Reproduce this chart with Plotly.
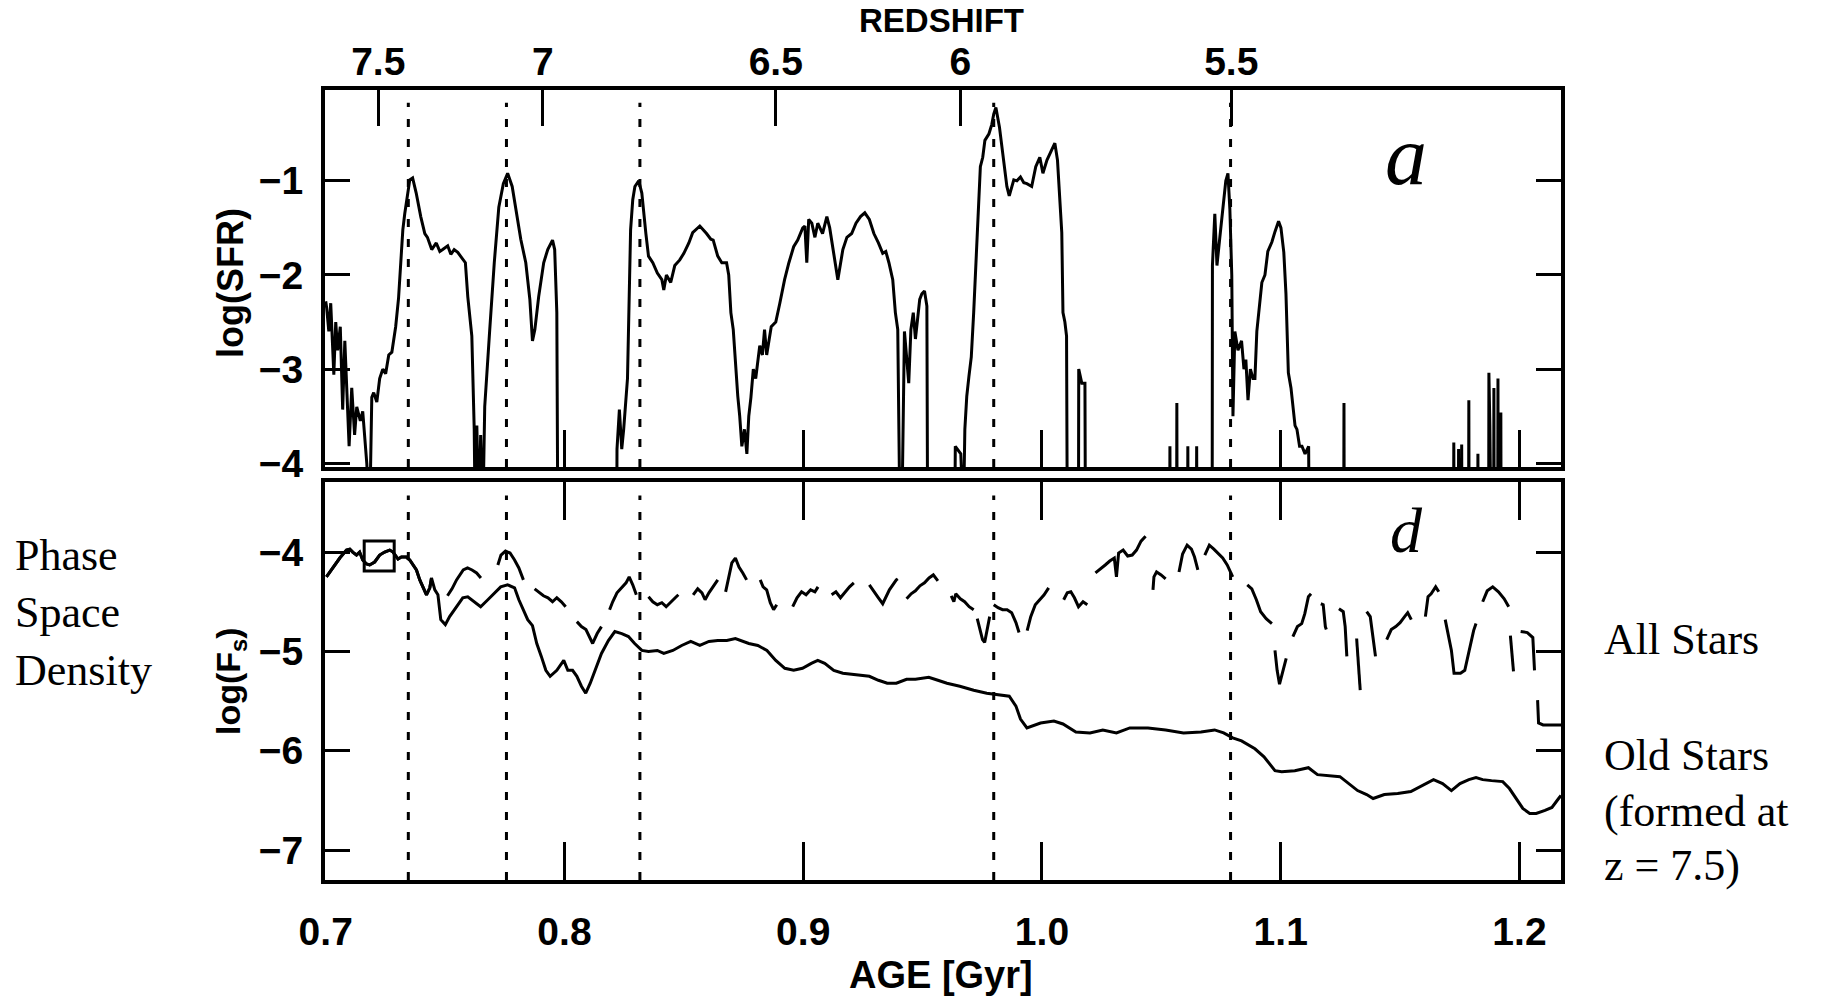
import plotly.graph_objects as go

# ---------------------------------------------------------------- data
# Star formation rate history, log(SFR) against age in Gyr.
# Values of -4.6 sit below the plotted floor (no star formation).
sfr_age = [
    0.7000, 0.7004, 0.7013, 0.7021, 0.7034, 0.7042, 0.7050, 0.7061, 0.7071, 0.7080,
    0.7088, 0.7098, 0.7109, 0.7121, 0.7130, 0.7145, 0.7155, 0.7163, 0.7172, 0.7184,
    0.7193, 0.7201, 0.7214, 0.7226, 0.7239, 0.7251, 0.7264, 0.7277, 0.7293, 0.7305,
    0.7314, 0.7323, 0.7331, 0.7342, 0.7352, 0.7364, 0.7379, 0.7398, 0.7415, 0.7426,
    0.7444, 0.7463, 0.7478, 0.7490, 0.7511, 0.7524, 0.7538, 0.7553, 0.7566, 0.7585,
    0.7595, 0.7612, 0.7622, 0.7626, 0.7633, 0.7641, 0.7649, 0.7658, 0.7666, 0.7675,
    0.7687, 0.7706, 0.7716, 0.7725, 0.7744, 0.7762, 0.7781, 0.7800, 0.7817, 0.7838,
    0.7855, 0.7866, 0.7876, 0.7892, 0.7913, 0.7930, 0.7950, 0.7959, 0.7968, 0.7972,
    0.8219, 0.8220, 0.8230, 0.8240, 0.8248, 0.8264, 0.8272, 0.8277, 0.8286, 0.8295,
    0.8311, 0.8324, 0.8341, 0.8352, 0.8370, 0.8389, 0.8408, 0.8416, 0.8427, 0.8445,
    0.8462, 0.8483, 0.8500, 0.8521, 0.8537, 0.8548, 0.8567, 0.8595, 0.8613, 0.8623,
    0.8642, 0.8659, 0.8679, 0.8688, 0.8697, 0.8707, 0.8716, 0.8726, 0.8734, 0.8743,
    0.8754, 0.8764, 0.8772, 0.8781, 0.8791, 0.8801, 0.8818, 0.8829, 0.8838, 0.8847,
    0.8866, 0.8885, 0.8902, 0.8922, 0.8940, 0.8960, 0.8977, 0.8987, 0.8998, 0.9007,
    0.9015, 0.9023, 0.9036, 0.9049, 0.9061, 0.9081, 0.9099, 0.9111, 0.9128, 0.9145,
    0.9166, 0.9183, 0.9203, 0.9221, 0.9240, 0.9258, 0.9277, 0.9296, 0.9315, 0.9333,
    0.9346, 0.9359, 0.9375, 0.9386, 0.9396, 0.9405, 0.9413, 0.9424, 0.9433, 0.9442,
    0.9451, 0.9461, 0.9470, 0.9480, 0.9488, 0.9497, 0.9508, 0.9518, 0.9521, 0.9635,
    0.9637, 0.9660, 0.9671, 0.9677, 0.9685, 0.9694, 0.9704, 0.9714, 0.9723, 0.9731,
    0.9742, 0.9752, 0.9761, 0.9778, 0.9790, 0.9798, 0.9807, 0.9822, 0.9835, 0.9853,
    0.9863, 0.9882, 0.9895, 0.9910, 0.9924, 0.9937, 0.9957, 0.9974, 0.9991, 1.0004,
    1.0021, 1.0042, 1.0054, 1.0065, 1.0075, 1.0083, 1.0088, 1.0096, 1.0103, 1.0106,
    1.0153, 1.0154, 1.0167, 1.0180, 1.0182,
    1.0535, 1.0536, 1.0537, 1.0564, 1.0565, 1.0566, 1.0610, 1.0611, 1.0612,
    1.0647, 1.0648, 1.0649,
    1.0713, 1.0714, 1.0724, 1.0733, 1.0745, 1.0762, 1.0770, 1.0779, 1.0787, 1.0795,
    1.0800, 1.0808, 1.0821, 1.0836, 1.0846, 1.0854, 1.0863, 1.0873, 1.0884, 1.0892,
    1.0900, 1.0921, 1.0934, 1.0946, 1.0963, 1.0976, 1.0991, 1.1001, 1.1013, 1.1022,
    1.1032, 1.1043, 1.1051, 1.1060, 1.1068, 1.1079, 1.1089, 1.1102, 1.1117, 1.1119,
    1.1264, 1.1265, 1.1266,
    1.1724, 1.1725, 1.1726, 1.1744, 1.1745, 1.1746, 1.1757, 1.1758, 1.1759,
    1.1787, 1.1788, 1.1789, 1.1825, 1.1826, 1.1827, 1.1871, 1.1872, 1.1876, 1.1880,
    1.1892, 1.1893, 1.1894, 1.1909, 1.1910, 1.1911, 1.1921, 1.1922, 1.1923, 1.2174,
]
sfr_log = [
    -2.28, -2.35, -2.60, -2.30, -3.06, -2.50, -2.80, -2.55, -3.43, -2.70,
    -3.20, -3.82, -3.20, -3.70, -3.40, -3.55, -3.45, -3.70, -4.00, -4.60,
    -3.30, -3.25, -3.35, -3.10, -3.00, -3.05, -2.85, -2.82, -2.55, -2.25,
    -1.87, -1.52, -1.35, -1.13, -0.99, -0.97, -1.13, -1.38, -1.56, -1.60,
    -1.73, -1.66, -1.75, -1.73, -1.69, -1.78, -1.73, -1.76, -1.80, -1.87,
    -2.23, -2.65, -3.64, -4.60, -3.60, -4.60, -3.70, -4.60, -3.40, -3.00,
    -2.58, -1.87, -1.52, -1.28, -1.03, -0.92, -1.06, -1.34, -1.62, -1.87,
    -2.26, -2.70, -2.58, -2.23, -1.87, -1.73, -1.63, -1.73, -2.40, -4.60,
    -4.60, -3.85, -3.43, -3.85, -3.64, -3.10, -2.23, -1.52, -1.20, -1.06,
    -1.00, -1.13, -1.56, -1.80, -1.87, -1.98, -2.05, -2.16, -2.00, -2.08,
    -1.90, -1.84, -1.77, -1.66, -1.55, -1.52, -1.48, -1.56, -1.62, -1.63,
    -1.80, -1.87, -1.87, -2.00, -2.40, -2.58, -2.93, -3.29, -3.50, -3.82,
    -3.64, -3.90, -3.50, -3.30, -3.00, -3.10, -2.75, -2.85, -2.58, -2.85,
    -2.55, -2.50, -2.30, -2.05, -1.87, -1.70, -1.63, -1.56, -1.50, -1.48,
    -1.87, -1.41, -1.45, -1.60, -1.45, -1.56, -1.38, -1.50, -1.80, -2.05,
    -1.73, -1.60, -1.56, -1.45, -1.38, -1.34, -1.41, -1.56, -1.66, -1.77,
    -1.75, -1.87, -2.05, -2.40, -2.58, -4.60, -4.60, -2.60, -2.87, -3.15,
    -2.58, -2.40, -2.68, -2.40, -2.26, -2.20, -2.17, -2.33, -4.60, -4.60,
    -3.82, -3.90, -4.60, -3.64, -3.29, -3.08, -2.87, -2.40, -1.94, -1.52,
    -0.85, -0.75, -0.57, -0.50, -0.40, -0.29, -0.22, -0.43, -0.67, -1.06,
    -1.16, -0.99, -1.00, -0.96, -1.02, -1.03, -1.06, -0.85, -0.75, -0.92,
    -0.78, -0.67, -0.60, -0.78, -1.20, -1.55, -2.40, -2.50, -2.65, -4.60,
    -4.60, -3.00, -3.15, -3.15, -4.60,
    -4.60, -3.82, -4.60, -4.60, -3.36, -4.60, -4.60, -3.82, -4.60,
    -4.60, -3.82, -4.60,
    -4.60, -1.90, -1.35, -1.90, -1.60, -1.20, -1.00, -0.92, -1.30, -2.00,
    -3.50, -2.60, -2.80, -2.70, -3.00, -2.90, -3.33, -3.00, -3.10, -3.10,
    -2.60, -2.08, -2.00, -1.75, -1.65, -1.54, -1.43, -1.50, -1.76, -2.20,
    -3.04, -3.20, -3.36, -3.60, -3.64, -3.82, -3.82, -3.90, -3.82, -4.60,
    -4.60, -3.36, -4.60,
    -4.60, -3.78, -4.60, -4.60, -3.85, -4.60, -4.60, -3.80, -4.60,
    -4.60, -3.33, -4.60, -4.60, -3.90, -4.60, -4.60, -3.04, -3.60, -4.60,
    -4.60, -3.20, -4.60, -4.60, -3.10, -4.60, -4.60, -3.46, -4.60, -4.60,
]

# Phase space density of the stars formed at z = 7.5 (continuous curve)
old_age = [
    0.7003, 0.7031, 0.7059, 0.7087, 0.7101, 0.7113, 0.7129, 0.7142, 0.7155, 0.7171,
    0.7184, 0.7205, 0.7226, 0.7247, 0.7268, 0.7282, 0.7303, 0.7317, 0.7338, 0.7352,
    0.7366, 0.7380, 0.7394, 0.7408, 0.7422, 0.7436, 0.7443, 0.7457, 0.7470, 0.7482,
    0.7501, 0.7519, 0.7548, 0.7574, 0.7595, 0.7622, 0.7649, 0.7679, 0.7706, 0.7733,
    0.7762, 0.7791, 0.7809, 0.7828, 0.7846, 0.7866, 0.7884, 0.7903, 0.7922, 0.7940,
    0.7968, 0.7997, 0.8014, 0.8034, 0.8052, 0.8071, 0.8089, 0.8108, 0.8127, 0.8155,
    0.8184, 0.8211, 0.8240, 0.8268, 0.8294, 0.8324, 0.8352, 0.8389, 0.8416, 0.8454,
    0.8491, 0.8529, 0.8567, 0.8605, 0.8642, 0.8680, 0.8716, 0.8772, 0.8810, 0.8848,
    0.8885, 0.8923, 0.8960, 0.8997, 0.9034, 0.9061, 0.9090, 0.9128, 0.9166, 0.9203,
    0.9240, 0.9277, 0.9315, 0.9352, 0.9390, 0.9433, 0.9470, 0.9526, 0.9564, 0.9602,
    0.9656, 0.9714, 0.9769, 0.9826, 0.9863, 0.9891, 0.9910, 0.9937, 0.9994, 1.0050,
    1.0088, 1.0142, 1.0201, 1.0255, 1.0312, 1.0368, 1.0444, 1.0518, 1.0593, 1.0666,
    1.0723, 1.0761, 1.0799, 1.0836, 1.0892, 1.0930, 1.0976, 1.1004, 1.1059, 1.1116,
    1.1154, 1.1248, 1.1285, 1.1322, 1.1360, 1.1387, 1.1434, 1.1490, 1.1545, 1.1602,
    1.1640, 1.1678, 1.1715, 1.1751, 1.1788, 1.1818, 1.1846, 1.1883, 1.1930, 1.1958,
    1.1985, 1.2014, 1.2043, 1.2070, 1.2107, 1.2136, 1.2164, 1.2174,
]
old_fs = [
    -4.25, -4.15, -4.06, -3.98, -3.97, -4.00, -4.03, -4.00, -4.08, -4.12,
    -4.13, -4.10, -4.03, -4.00, -3.98, -4.00, -4.07, -4.05, -4.05, -4.08,
    -4.13, -4.18, -4.28, -4.35, -4.43, -4.36, -4.26, -4.38, -4.43, -4.68,
    -4.73, -4.65, -4.55, -4.46, -4.45, -4.50, -4.55, -4.48, -4.41, -4.35,
    -4.33, -4.36, -4.48, -4.58, -4.68, -4.74, -4.92, -5.05, -5.19, -5.25,
    -5.19, -5.09, -5.19, -5.19, -5.25, -5.35, -5.42, -5.32, -5.19, -5.02,
    -4.89, -4.80, -4.82, -4.85, -4.92, -4.99, -5.00, -4.99, -5.02, -4.99,
    -4.94, -4.90, -4.94, -4.90, -4.89, -4.89, -4.87, -4.92, -4.94, -4.99,
    -5.09, -5.17, -5.19, -5.17, -5.12, -5.09, -5.12, -5.19, -5.22, -5.23,
    -5.24, -5.25, -5.29, -5.32, -5.32, -5.28, -5.28, -5.26, -5.29, -5.32,
    -5.35, -5.39, -5.42, -5.44, -5.45, -5.55, -5.68, -5.77, -5.72, -5.70,
    -5.73, -5.81, -5.82, -5.79, -5.82, -5.77, -5.77, -5.79, -5.82, -5.81,
    -5.79, -5.82, -5.87, -5.90, -5.98, -6.06, -6.20, -6.21, -6.20, -6.17,
    -6.24, -6.26, -6.33, -6.40, -6.44, -6.48, -6.44, -6.43, -6.41, -6.34,
    -6.29, -6.33, -6.40, -6.33, -6.29, -6.27, -6.29, -6.30, -6.31, -6.38,
    -6.48, -6.58, -6.63, -6.63, -6.60, -6.57, -6.48, -6.45,
]

# Phase space density of all stars (broken where the curve is interrupted)
all_age = [
    0.7003, 0.7031, 0.7059, 0.7087, 0.7101, 0.7113, 0.7129, 0.7142, 0.7155, 0.7171,
    0.7184, 0.7205, 0.7226, 0.7247, 0.7268, 0.7282, 0.7303, 0.7317, 0.7338, 0.7352,
    0.7366, 0.7380, 0.7394, 0.7408, 0.7422, 0.7436, 0.7443, None,
    0.7510, 0.7529, 0.7548, 0.7576, 0.7594, 0.7613, 0.7632, 0.7650, None,
    0.7721, 0.7734, 0.7753, 0.7772, 0.7791, 0.7809, 0.7828, None,
    0.7875, 0.7893, 0.7912, 0.7931, 0.7950, 0.7968, 0.7987, 0.8005, None,
    0.8052, 0.8071, 0.8090, 0.8109, 0.8118, 0.8137, 0.8155, None,
    0.8189, 0.8202, 0.8220, 0.8240, 0.8258, 0.8271, 0.8286, 0.8301, None,
    0.8352, 0.8370, 0.8389, 0.8408, 0.8426, 0.8445, 0.8464, 0.8477, None,
    0.8539, 0.8558, 0.8576, 0.8589, 0.8605, 0.8623, 0.8642, None,
    0.8675, 0.8688, 0.8701, 0.8716, 0.8731, 0.8747, 0.8763, None,
    0.8820, 0.8832, 0.8847, 0.8862, 0.8876, 0.8889, None,
    0.8956, 0.8974, 0.8993, 0.9012, 0.9031, 0.9049, 0.9062, None,
    0.9119, 0.9137, 0.9156, 0.9175, 0.9194, 0.9212, None,
    0.9277, 0.9296, 0.9315, 0.9333, 0.9361, 0.9390, 0.9396, None,
    0.9433, 0.9452, 0.9470, 0.9489, 0.9508, 0.9527, 0.9545, 0.9564, None,
    0.9620, 0.9631, 0.9639, 0.9658, 0.9676, 0.9695, 0.9714, None,
    0.9729, 0.9742, 0.9751, 0.9760, 0.9770, 0.9781, None,
    0.9798, 0.9816, 0.9835, 0.9854, 0.9873, 0.9891, 0.9904, None,
    0.9938, 0.9953, 0.9972, 0.9990, 1.0009, 1.0028, None,
    1.0091, 1.0106, 1.0121, 1.0136, 1.0153, 1.0172, 1.0190, None,
    1.0224, 1.0247, 1.0265, 1.0284, 1.0303, 1.0312, 1.0321, 1.0340, 1.0359, 1.0378,
    1.0396, 1.0415, 1.0434, None,
    1.0465, 1.0469, 1.0480, 1.0499, 1.0518, None,
    1.0574, 1.0589, 1.0608, 1.0626, 1.0639, 1.0653, None,
    1.0682, 1.0701, 1.0720, 1.0739, 1.0757, 1.0776, 1.0791, 1.0799, None,
    1.0860, 1.0879, 1.0898, 1.0916, 1.0939, 1.0963, None,
    1.0976, 1.0985, 1.0995, 1.1010, 1.1023, None,
    1.1051, 1.1070, 1.1088, 1.1101, 1.1116, 1.1127, None,
    1.1168, 1.1178, 1.1187, 1.1191, None,
    1.1244, 1.1262, 1.1270, 1.1277, None,
    1.1318, 1.1326, 1.1333, None,
    1.1360, 1.1375, 1.1386, 1.1397, None,
    1.1444, 1.1463, 1.1482, 1.1500, 1.1519, 1.1532, 1.1547, None,
    1.1606, 1.1617, 1.1630, 1.1649, 1.1662, None,
    1.1689, 1.1700, 1.1715, 1.1726, 1.1753, 1.1771, 1.1790, 1.1808, 1.1818, None,
    1.1846, 1.1865, 1.1888, 1.1912, 1.1936, 1.1955, None,
    1.1962, 1.1969, 1.1975, None,
    1.2005, 1.2033, 1.2056, 1.2063, None,
    1.2076, 1.2080, 1.2099, 1.2164, 1.2174,
]
all_fs = [
    -4.25, -4.15, -4.06, -3.98, -3.97, -4.00, -4.03, -4.00, -4.08, -4.12,
    -4.13, -4.10, -4.03, -4.00, -3.98, -4.00, -4.07, -4.05, -4.05, -4.08,
    -4.13, -4.18, -4.28, -4.35, -4.43, -4.36, -4.26, None,
    -4.44, -4.37, -4.28, -4.18, -4.16, -4.18, -4.21, -4.26, None,
    -4.13, -4.03, -3.99, -4.01, -4.08, -4.16, -4.28, None,
    -4.37, -4.40, -4.44, -4.46, -4.50, -4.46, -4.50, -4.55, None,
    -4.70, -4.75, -4.78, -4.87, -4.92, -4.82, -4.75, None,
    -4.58, -4.50, -4.41, -4.36, -4.31, -4.25, -4.33, -4.43, None,
    -4.45, -4.50, -4.53, -4.51, -4.55, -4.50, -4.46, -4.43, None,
    -4.43, -4.37, -4.41, -4.48, -4.41, -4.34, -4.28, None,
    -4.40, -4.25, -4.11, -4.06, -4.15, -4.21, -4.28, None,
    -4.28, -4.35, -4.38, -4.51, -4.58, -4.53, None,
    -4.55, -4.46, -4.40, -4.43, -4.38, -4.40, -4.35, None,
    -4.43, -4.40, -4.46, -4.40, -4.35, -4.31, None,
    -4.33, -4.40, -4.46, -4.52, -4.38, -4.28, -4.27, None,
    -4.47, -4.42, -4.39, -4.34, -4.31, -4.26, -4.23, -4.29, None,
    -4.44, -4.50, -4.42, -4.47, -4.50, -4.55, -4.58, None,
    -4.67, -4.78, -4.88, -4.91, -4.78, -4.65, None,
    -4.53, -4.56, -4.58, -4.58, -4.61, -4.71, -4.81, None,
    -4.79, -4.65, -4.53, -4.48, -4.43, -4.36, None,
    -4.48, -4.41, -4.40, -4.46, -4.55, -4.50, -4.53, None,
    -4.21, -4.16, -4.13, -4.09, -4.06, -4.25, -4.01, -3.98, -4.04, -4.03,
    -3.98, -3.89, -3.84, None,
    -4.38, -4.25, -4.20, -4.23, -4.27, None,
    -4.20, -4.02, -3.93, -3.97, -4.05, -4.18, None,
    -4.03, -3.93, -3.97, -4.02, -4.06, -4.13, -4.20, -4.25, None,
    -4.33, -4.37, -4.48, -4.60, -4.67, -4.72, None,
    -4.99, -5.19, -5.33, -5.19, -5.07, None,
    -4.85, -4.75, -4.72, -4.62, -4.45, -4.42, None,
    -4.52, -4.53, -4.75, -4.78, None,
    -4.57, -4.60, -4.75, -5.05, None,
    -4.87, -5.12, -5.39, None,
    -4.60, -4.65, -4.85, -5.05, None,
    -4.88, -4.78, -4.75, -4.71, -4.65, -4.61, -4.68, None,
    -4.65, -4.45, -4.42, -4.35, -4.40, None,
    -4.68, -4.82, -4.99, -5.22, -5.22, -5.19, -4.99, -4.79, -4.72, None,
    -4.50, -4.39, -4.35, -4.40, -4.47, -4.55, None,
    -4.84, -5.04, -5.20, None,
    -4.80, -4.81, -4.86, -5.19, None,
    -5.49, -5.72, -5.74, -5.74, -5.74,
]

# Formation epoch of the old population (z = 7.5)
old_marker_age = [0.7224]
old_marker_fs = [-4.04]

# Ages of the starburst events (dotted lines)
event_ages = [0.7346, 0.7757, 0.8316, 0.9798, 1.0790]

# Axis ticks
age_ticks = [0.7, 0.8, 0.9, 1.0, 1.1, 1.2]
age_labels = ["0.7", "0.8", "0.9", "1.0", "1.1", "1.2"]
redshift_ages = [0.7220, 0.7909, 0.8885, 0.9658, 1.0793]
redshift_labels = ["7.5", "7", "6.5", "6", "5.5"]
sfr_ticks = [-1, -2, -3, -4]
fs_ticks = [-4, -5, -6, -7]

AGE_RANGE = [0.6997, 1.2174]
SFR_RANGE = [-4.04, -0.035]
FS_RANGE = [-7.30, -3.295]

# ---------------------------------------------------------------- layout
W, H = 1821, 998
X_DOM = [325 / W, 1561 / W]
TOP_DOM = [(H - 467) / H, (H - 90) / H]
BOT_DOM = [(H - 880) / H, (H - 482) / H]

SANS = "Liberation Sans Narrow, Liberation Sans, Arial, sans-serif"
SERIF = "Liberation Serif, Times New Roman, serif"
TICK_FONT = dict(family=SANS, size=39, color="black", weight="bold")
LINE = dict(color="black", width=3)

fig = go.Figure()

fig.add_trace(go.Scatter(x=sfr_age, y=sfr_log, mode="lines", line=dict(color="black", width=3),
                         xaxis="x", yaxis="y", showlegend=False, hoverinfo="skip"))
fig.add_trace(go.Scatter(x=old_age, y=old_fs, mode="lines", line=LINE,
                         xaxis="x2", yaxis="y2", showlegend=False, hoverinfo="skip"))
fig.add_trace(go.Scatter(x=all_age, y=all_fs, mode="lines", line=LINE, connectgaps=False,
                         xaxis="x2", yaxis="y2", showlegend=False, hoverinfo="skip"))
fig.add_trace(go.Scatter(x=old_marker_age, y=old_marker_fs, mode="markers",
                         marker=dict(symbol="square-open", size=30, color="black",
                                     line=dict(color="black", width=3)),
                         xaxis="x2", yaxis="y2", showlegend=False, hoverinfo="skip"))
# invisible trace so the redshift axis is drawn
fig.add_trace(go.Scatter(x=[AGE_RANGE[0]], y=[SFR_RANGE[0]], mode="markers",
                         marker=dict(opacity=0), xaxis="x3", yaxis="y",
                         showlegend=False, hoverinfo="skip"))

# dotted event lines in both panels
shapes = []
for a in event_ages:
    for xr, yr in (("x", "y domain"), ("x2", "y2 domain")):
        shapes.append(dict(type="line", xref=xr, yref=yr, x0=a, x1=a, y0=0, y1=0.966,
                           line=dict(color="black", width=3, dash="8px,12px")))

common_x = dict(showgrid=False, zeroline=False, showline=True, linecolor="black", linewidth=4,
                ticks="inside", tickwidth=3, tickcolor="black", range=AGE_RANGE,
                automargin=False)
common_y = dict(showgrid=False, zeroline=False, showline=True, linecolor="black", linewidth=4,
                ticks="inside", ticklen=25, tickwidth=3, tickcolor="black", mirror="ticks",
                tickfont=TICK_FONT, ticklabelstandoff=10, automargin=False)

fig.update_layout(
    width=W, height=H, margin=dict(l=0, r=0, t=0, b=0, autoexpand=False),
    paper_bgcolor="white", plot_bgcolor="white", showlegend=False,
    xaxis=dict(domain=X_DOM, anchor="y", tickvals=age_ticks, showticklabels=False,
               ticklen=37, mirror=True, **common_x),
    xaxis3=dict(overlaying="x", side="top", anchor="y", range=AGE_RANGE,
                tickvals=redshift_ages, ticktext=redshift_labels, ticks="inside",
                ticklen=36, tickwidth=3, tickcolor="black", showline=False,
                showgrid=False, zeroline=False, tickfont=TICK_FONT, ticklabelstandoff=6,
                automargin=False),
    xaxis2=dict(domain=X_DOM, anchor="y2", tickvals=age_ticks, ticktext=age_labels,
                ticklen=38, mirror="ticks", tickfont=TICK_FONT, ticklabelstandoff=14,
                **common_x),
    yaxis=dict(domain=TOP_DOM, anchor="x", range=SFR_RANGE, tickvals=sfr_ticks,
               ticktext=["\u2212" + str(-t) for t in sfr_ticks], **common_y),
    yaxis2=dict(domain=BOT_DOM, anchor="x2", range=FS_RANGE, tickvals=fs_ticks,
                ticktext=["\u2212" + str(-t) for t in fs_ticks], **common_y),
    shapes=shapes,
)

def px(x):
    return x / W

def py(y):
    return 1 - y / H

ann = [
    dict(text="REDSHIFT", x=px(941), y=py(21), font=dict(family=SANS, size=33, weight="bold")),
    dict(text="AGE [Gyr]", x=px(941), y=py(975), font=dict(family=SANS, size=38, weight="bold")),
    dict(text="log(SFR)", x=px(230), y=py(283), textangle=-90,
         font=dict(family="Liberation Sans, Arial, sans-serif", size=36, weight="bold")),
    dict(text="log(F<sub>s</sub>)", x=px(230), y=py(681), textangle=-90,
         font=dict(family="Liberation Sans, Arial, sans-serif", size=34, weight="bold")),
    dict(text="<i>a</i>", x=px(1406), y=py(156), font=dict(family=SERIF, size=84)),
    dict(text="<i>d</i>", x=px(1406), y=py(530), font=dict(family=SERIF, size=64)),
]
for txt, yc in (("Phase", 555), ("Space", 612), ("Density", 670)):
    ann.append(dict(text=txt, x=px(13), y=py(yc), xanchor="left",
                    font=dict(family=SERIF, size=44)))
for txt, yc in (("All Stars", 639), ("Old Stars", 755), ("(formed at", 811), ("z = 7.5)", 865)):
    ann.append(dict(text=txt, x=px(1602), y=py(yc), xanchor="left",
                    font=dict(family=SERIF, size=44)))
for a in ann:
    a.setdefault("xanchor", "center")
    a.update(xref="paper", yref="paper", yanchor="middle", showarrow=False)
    a["font"].setdefault("color", "black")
fig.update_layout(annotations=ann)

fig.write_html("out.html")
